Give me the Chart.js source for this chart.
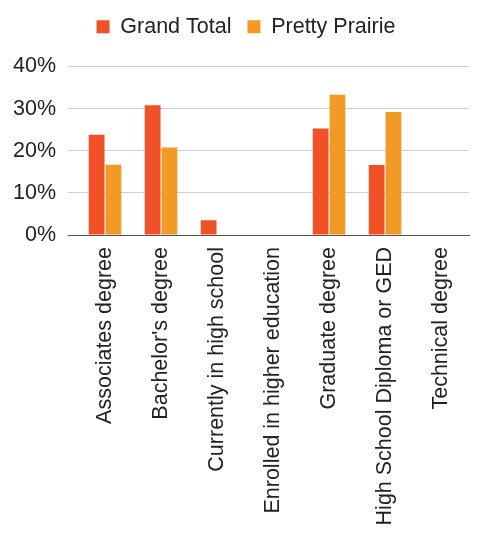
<!DOCTYPE html>
<html>
<head>
<meta charset="utf-8">
<script src="https://cdn.jsdelivr.net/npm/chart.js@4"></script>
<style>
  html, body { margin: 0; padding: 0; background: #fff; }
  #wrap { width: 479px; height: 534px; }
</style>
</head>
<body>
<div id="wrap"><canvas id="eduChart"></canvas></div>
<script>
const categories = [
    'Associates degree',
    "Bachelor's degree",
    'Currently in high school',
    'Enrolled in higher education',
    'Graduate degree',
    'High School Diploma or GED',
    'Technical degree'
];
const grandTotal = [23.8, 30.8, 3.5, 0.1, 25.3, 16.6, 0.1];
const prettyPrairie = [16.7, 20.8, 0, 0, 33.3, 29.2, 0];
const yTicks = [0, 10, 20, 30, 40];

const FONT = '"Liberation Sans", Arial, sans-serif';
const FONT_SIZE = 21.5;

// extra gap below the legend, and legend nudged toward the plot centre
const legendGap = {
    id: 'legendGap',
    beforeInit(chart) {
        const fit = chart.legend.fit;
        chart.legend.fit = function () {
            fit.call(this);
            this.height += 19;
        };
    },
    afterLayout(chart) {
        chart.legend.left += 14;
    }
};

document.addEventListener('DOMContentLoaded', function () {
    const ctx = document.getElementById('eduChart').getContext('2d');
    new Chart(ctx, {
        type: 'bar',
        plugins: [legendGap],
        data: {
            labels: categories,
            datasets: [{
                label: 'Grand Total',
                data: grandTotal,
                backgroundColor: '#f05127',
                categoryPercentage: 0.6,
                barPercentage: 0.94
            }, {
                label: 'Pretty Prairie',
                data: prettyPrairie,
                backgroundColor: '#f29a26',
                categoryPercentage: 0.6,
                barPercentage: 0.94
            }]
        },
        options: {
            responsive: true,
            maintainAspectRatio: false,
            animation: false,
            layout: {
                padding: { left: 1, right: 2, top: 0, bottom: 0 }
            },
            plugins: {
                legend: {
                    position: 'top',
                    labels: {
                        boxWidth: 13,
                        boxHeight: 13,
                        padding: 16,
                        color: '#222',
                        font: { family: FONT, size: FONT_SIZE }
                    }
                },
                tooltip: { enabled: false }
            },
            scales: {
                x: {
                    // long rotated labels need more than half the canvas
                    afterFit: scale => { scale.height = 299; },
                    grid: { display: false, drawTicks: false },
                    border: { display: true, color: '#555', width: 1 },
                    ticks: {
                        color: '#222',
                        font: { family: FONT, size: FONT_SIZE },
                        minRotation: 90,
                        maxRotation: 90,
                        padding: 12,
                        autoSkip: false
                    }
                },
                y: {
                    min: 0,
                    max: 40,
                    afterBuildTicks: function (scale) {
                        scale.ticks = yTicks.map(v => ({ value: v }));
                    },
                    border: { display: false },
                    grid: {
                        color: '#d0d0d0',
                        tickLength: 9,
                        tickColor: c => c.tick && c.tick.value === 0 ? '#555' : '#d0d0d0'
                    },
                    ticks: {
                        color: '#222',
                        padding: 12,
                        font: { family: FONT, size: FONT_SIZE },
                        callback: v => v + '%'
                    }
                }
            }
        }
    });
});
</script>
</body>
</html>
